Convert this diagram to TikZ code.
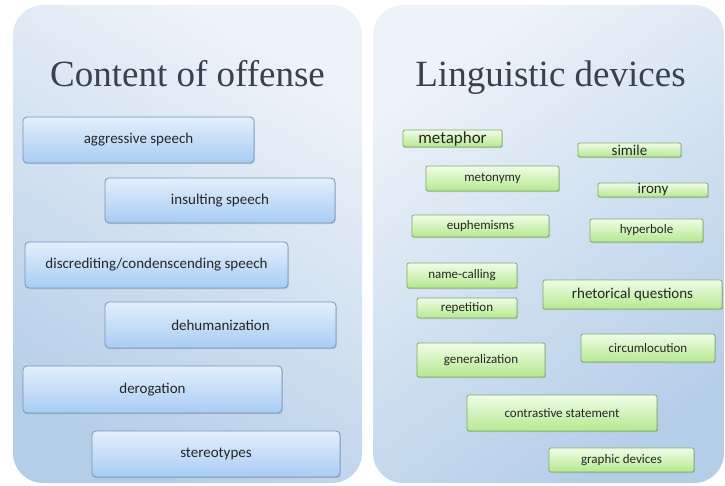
\documentclass[tikz,border=0pt]{standalone}
\usepackage{fontspec}
\newfontfamily\boxfont{Carlito}
\newfontfamily\titlefont{Liberation Serif}
\usetikzlibrary{shadows}

\definecolor{panelTop}{HTML}{EEF3F9}
\definecolor{panelBot}{HTML}{B5CEE8}
\definecolor{titleCol}{HTML}{3A414E}
\definecolor{blueTop}{HTML}{E4EFFC}
\definecolor{blueBot}{HTML}{A7CCF4}
\definecolor{blueLine}{HTML}{7895B6}
\definecolor{greenTop}{HTML}{F1FCE8}
\definecolor{greenBot}{HTML}{B4E98F}
\definecolor{greenLine}{HTML}{80AA64}

\tikzset{
  paneltitle/.style={anchor=base,text=titleCol,font=\titlefont\fontsize{37}{42}\selectfont},
  offensebox/.style={draw=blueLine,line width=0.8pt,rounded corners=4pt,
    top color=blueTop,bottom color=blueBot,inner sep=0pt,text=black!85,
    drop shadow={shadow xshift=0.8pt,shadow yshift=-1.2pt,opacity=.3},
    font=\boxfont\fontsize{15}{17}\selectfont},
  devicebox/.style={draw=greenLine,line width=0.8pt,rounded corners=2pt,
    top color=greenTop,bottom color=greenBot,inner sep=0pt,text=black!85,
    drop shadow={shadow xshift=0.8pt,shadow yshift=-1.2pt,opacity=.3},
    font=\boxfont\fontsize{13}{15}\selectfont}
}

\begin{document}
\begin{tikzpicture}[x=1pt,y=-1pt]
\useasboundingbox (0,0) rectangle (725,486);
% the two panels
\shade[rounded corners=30pt,top color=panelTop,bottom color=panelBot,shading angle=-30] (13,5) rectangle (362,483);
\shade[rounded corners=30pt,top color=panelTop,bottom color=panelBot,shading angle=35] (373,5) rectangle (724,483);

\node[paneltitle] (offensetitle) at (187.5,87) {Content of offense};
\node[paneltitle] (devicetitle) at (550.5,87) {Linguistic devices};

% content of offense
\node[offensebox,minimum width=231,minimum height=46] (aggressive) at (138.5,140) {aggressive speech};
\node[offensebox,minimum width=230,minimum height=45] (insulting) at (220,200.5) {insulting speech};
\node[offensebox,minimum width=263,minimum height=46] (discrediting) at (156.5,265) {discrediting/condenscending speech};
\node[offensebox,minimum width=231,minimum height=46] (dehumanization) at (220.5,325) {dehumanization};
\node[offensebox,minimum width=259,minimum height=47] (derogation) at (152.5,389.5) {derogation};
\node[offensebox,minimum width=248,minimum height=46] (stereotypes) at (216,454) {stereotypes};

% linguistic devices
\node[devicebox,minimum width=99,minimum height=17,font=\boxfont\fontsize{17}{19}\selectfont] (metaphor) at (452.5,138.5) {metaphor};
\node[devicebox,minimum width=103,minimum height=14,font=\boxfont\fontsize{15}{16}\selectfont] (simile) at (629.5,150) {simile};
\node[devicebox,minimum width=133,minimum height=25] (metonymy) at (492.5,178.5) {metonymy};
\node[devicebox,minimum width=110,minimum height=14,font=\boxfont\fontsize{15}{16}\selectfont] (irony) at (653,190) {irony};
\node[devicebox,minimum width=137,minimum height=22] (euphemisms) at (480.5,226) {euphemisms};
\node[devicebox,minimum width=113,minimum height=23] (hyperbole) at (646.5,230.5) {hyperbole};
\node[devicebox,minimum width=110,minimum height=25] (namecalling) at (462,275.5) {name-calling};
\node[devicebox,minimum width=100,minimum height=20] (repetition) at (467,308) {repetition};
\node[devicebox,minimum width=179,minimum height=29,font=\boxfont\fontsize{15}{17}\selectfont] (rhetorical) at (632.5,294.5) {rhetorical questions};
\node[devicebox,minimum width=134,minimum height=28] (circumlocution) at (648,348) {circumlocution};
\node[devicebox,minimum width=128,minimum height=34] (generalization) at (481,360) {generalization};
\node[devicebox,minimum width=190,minimum height=36] (contrastive) at (562,413) {contrastive statement};
\node[devicebox,minimum width=145,minimum height=24] (graphic) at (621.5,460) {graphic devices};
\end{tikzpicture}
\end{document}
